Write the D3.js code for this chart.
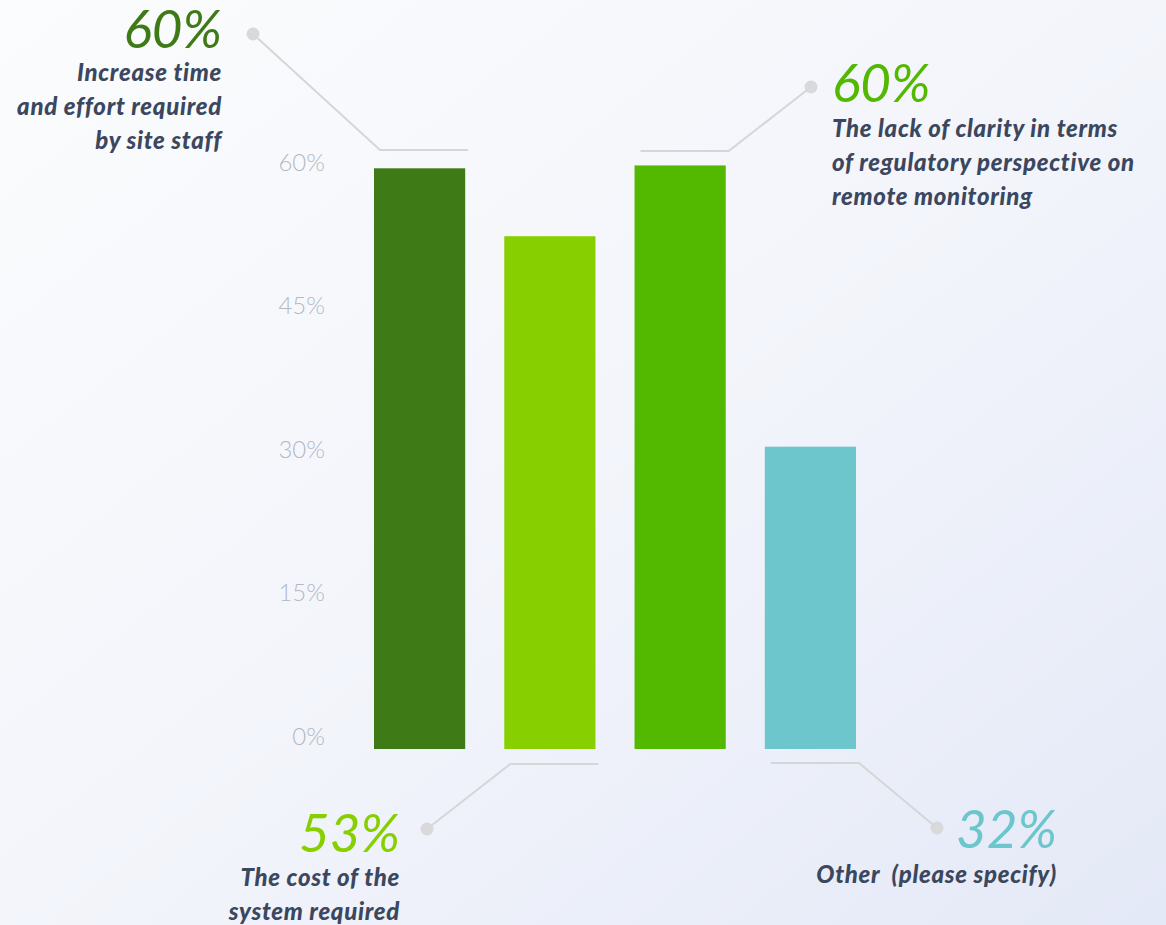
<!DOCTYPE html>
<html>
<head>
<meta charset="utf-8">
<script src="https://cdn.jsdelivr.net/npm/d3@7"></script>
<style>
  html, body { margin: 0; padding: 0; }
  body { width: 1166px; height: 925px; overflow: hidden; }
</style>
</head>
<body>
<script>
"use strict";

// values (bar heights), plus the printed callout numbers
const categories = [
  "Increase time and effort required by site staff",
  "The cost of the system required",
  "The lack of clarity in terms of regulatory perspective on remote monitoring",
  "Other  (please specify)"
];
const values = [60.7, 53.6, 61.0, 31.6];
const valueLabels = ["60%", "53%", "60%", "32%"];
const colors = ["#3e7a16", "#88cf00", "#53b800", "#6cc6cb"];
const tickValues = [0, 15, 30, 45, 60];

// callout text lines per bar
const labelLines = [
  ["Increase time", "and effort required", "by site staff"],
  ["The cost of the", "system required"],
  ["The lack of clarity in terms", "of regulatory perspective on", "remote monitoring"],
  ["Other  (please specify)"]
];

const width = 1166, height = 925;
const font = "Lato, 'Open Sans', sans-serif";
const textColor = "#3b475f";
const lineColor = "#d6d6d8";

const svg = d3.select("body").append("svg")
  .attr("width", width)
  .attr("height", height);

const grad = svg.append("defs").append("linearGradient")
  .attr("id", "bg")
  .attr("x1", "0%").attr("y1", "0%")
  .attr("x2", "100%").attr("y2", "100%");
grad.append("stop").attr("offset", "0%").attr("stop-color", "#fbfcfd");
grad.append("stop").attr("offset", "50%").attr("stop-color", "#f3f5fb");
grad.append("stop").attr("offset", "100%").attr("stop-color", "#e4e9f7");
svg.append("rect").attr("width", width).attr("height", height).attr("fill", "url(#bg)");

const x = d3.scaleBand()
  .domain(categories)
  .range([374, 856])
  .paddingInner(0.3)
  .paddingOuter(0);

const y = d3.scaleLinear()
  .domain([0, 60])
  .range([749, 175]);

// y axis: labels only
const yAxis = d3.axisLeft(y)
  .tickValues(tickValues)
  .tickFormat(d => d + "%")
  .tickSize(0)
  .tickPadding(0);

const axisG = svg.append("g")
  .attr("transform", "translate(325,0)")
  .call(yAxis);
axisG.select(".domain").remove();
axisG.selectAll("text")
  .attr("dy", "-0.2em")
  .attr("fill", "#b3b8c5")
  .style("font-family", font)
  .style("font-weight", 300)
  .style("font-size", "24px");

// bars
svg.append("g")
  .selectAll("rect")
  .data(categories)
  .enter()
  .append("rect")
    .attr("x", d => x(d))
    .attr("y", (d, i) => y(values[i]))
    .attr("width", x.bandwidth())
    .attr("height", (d, i) => y(0) - y(values[i]))
    .attr("fill", (d, i) => colors[i]);

// callouts: bracket line from the bar to a dot, then the number and text
const callouts = [
  { lineY: 150, dot: [253, 34], anchor: "end", tx: 222, numY: 48, textY: 81 },
  { lineY: 764, dot: [427, 829], anchor: "end", tx: 400, numY: 852, textY: 886 },
  { lineY: 151, dot: [811, 87], anchor: "start", tx: 832, numY: 102, textY: 137 },
  { lineY: 763, dot: [937, 828], anchor: "end", tx: 1057, numY: 848, textY: 883 }
];

const calloutG = svg.append("g");

categories.forEach((cat, i) => {
  const c = callouts[i];
  const x0 = x(cat) + 4;
  const x1 = x(cat) + x.bandwidth() + 3;
  // kink point is at the end of the horizontal bracket nearest the dot
  const kinkX = c.dot[0] < x0 ? x0 + 2 : (c.dot[0] > x1 ? x1 : x0);
  const farX = kinkX === x0 + 2 ? x1 : x0 + 2;

  calloutG.append("path")
    .attr("d", d3.line()([[farX, c.lineY], [kinkX, c.lineY], c.dot]))
    .attr("fill", "none")
    .attr("stroke", lineColor)
    .attr("stroke-width", 2);

  calloutG.append("circle")
    .attr("cx", c.dot[0])
    .attr("cy", c.dot[1])
    .attr("r", 6.5)
    .attr("fill", "#d9d9dc");

  calloutG.append("text")
    .attr("x", c.tx)
    .attr("y", c.numY)
    .attr("text-anchor", c.anchor)
    .attr("fill", colors[i])
    .style("font-family", font)
    .style("font-style", "italic")
    .style("font-size", "53px")
    .style("letter-spacing", "0px")
    .text(valueLabels[i]);

  calloutG.append("g")
    .selectAll("text")
    .data(labelLines[i])
    .enter()
    .append("text")
      .attr("x", c.tx)
      .attr("y", (d, j) => c.textY + j * 34)
      .attr("text-anchor", c.anchor)
      .attr("fill", textColor)
      .style("font-family", font)
      .style("font-style", "italic")
      .style("font-weight", 900)
      .style("font-size", "24px")
      .style("letter-spacing", "0.7px")
      .style("white-space", "pre")
      .text(d => d);
});
</script>
</body>
</html>
